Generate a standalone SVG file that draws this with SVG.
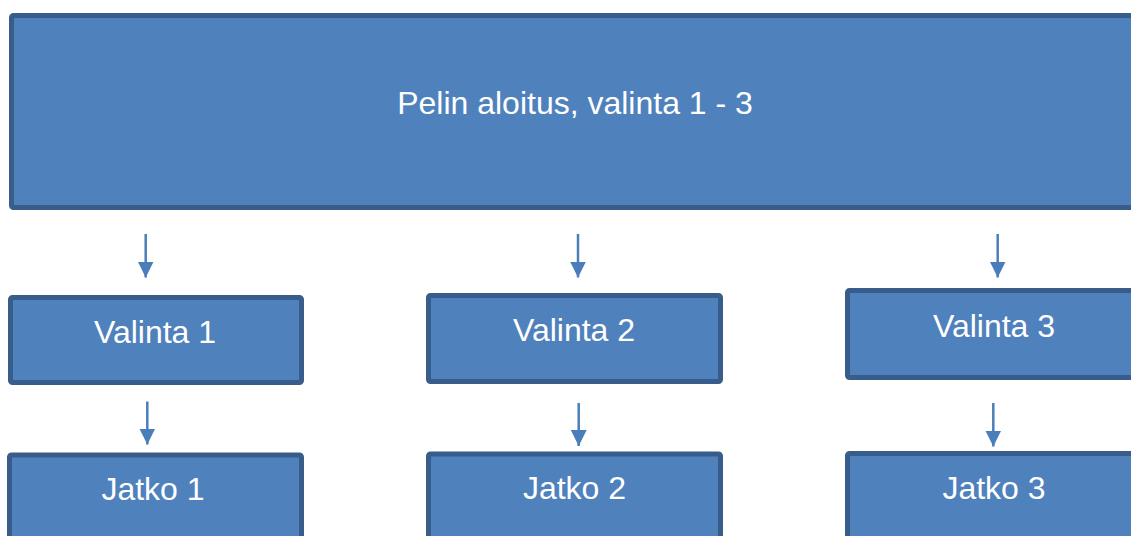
<svg xmlns="http://www.w3.org/2000/svg" width="1131" height="536" viewBox="0 0 1131 536">
  <style>
    .box { fill: #4F81BD; stroke: #385D8A; stroke-width: 5; }
    .label { font-family: "Liberation Sans", Arial, sans-serif; font-size: 32px; fill: #FFFFFF; text-anchor: middle; }
    .conn { stroke: #4A7EBB; stroke-width: 2.5; fill: none; marker-end: url(#arrow); }
  </style>
  <defs>
    <marker id="arrow" markerUnits="userSpaceOnUse" markerWidth="16" markerHeight="16" refX="16" refY="8" orient="auto">
      <path d="M0,0 L16,8 L0,16 Z" fill="#4A7EBB"/>
    </marker>
  </defs>

  <g id="start">
    <rect class="box" x="11.5" y="15.5" width="1140" height="192" rx="2"/>
    <text class="label" x="575" y="114">Pelin aloitus, valinta 1 - 3</text>
  </g>

  <g id="valinta1">
    <rect class="box" x="10.5" y="297.5" width="291" height="85" rx="2"/>
    <text class="label" x="155" y="343">Valinta 1</text>
  </g>
  <g id="valinta2">
    <rect class="box" x="428.5" y="295.5" width="292" height="86" rx="2"/>
    <text class="label" x="574" y="341">Valinta 2</text>
  </g>
  <g id="valinta3">
    <rect class="box" x="847.5" y="290.5" width="300" height="87" rx="2"/>
    <text class="label" x="994" y="337">Valinta 3</text>
  </g>

  <g id="jatko1">
    <rect class="box" x="9.5" y="455" width="292" height="100" rx="2"/>
    <text class="label" x="153" y="500">Jatko 1</text>
  </g>
  <g id="jatko2">
    <rect class="box" x="428.5" y="454" width="292" height="100" rx="2"/>
    <text class="label" x="574.5" y="499">Jatko 2</text>
  </g>
  <g id="jatko3">
    <rect class="box" x="847.5" y="453.5" width="300" height="100" rx="2"/>
    <text class="label" x="994" y="499">Jatko 3</text>
  </g>

  <g id="connectors">
    <line class="conn" x1="145.7" y1="234" x2="145.7" y2="277.5"/>
    <line class="conn" x1="578" y1="234" x2="578" y2="277.5"/>
    <line class="conn" x1="997.7" y1="234" x2="997.7" y2="277.5"/>
    <line class="conn" x1="147.3" y1="401.5" x2="147.3" y2="444.5"/>
    <line class="conn" x1="578.7" y1="403" x2="578.7" y2="446"/>
    <line class="conn" x1="993.3" y1="403" x2="993.3" y2="446.5"/>
  </g>
</svg>
